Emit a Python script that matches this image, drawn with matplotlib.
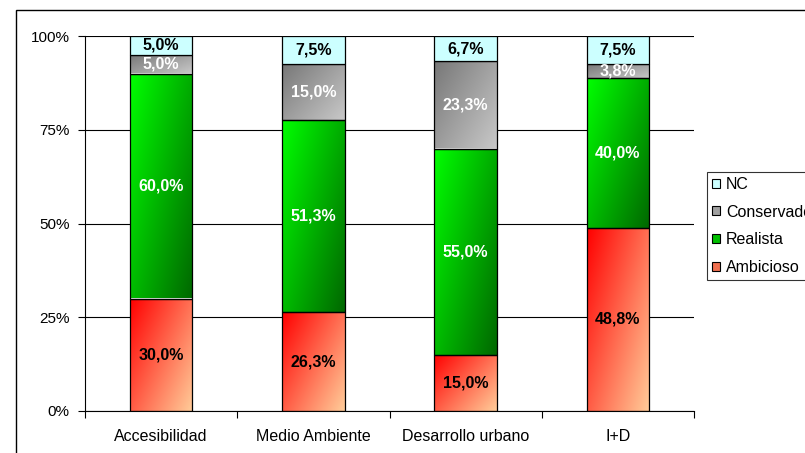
import numpy as np
import matplotlib
matplotlib.use("Agg")
import matplotlib.pyplot as plt
from matplotlib.colors import LinearSegmentedColormap
from matplotlib.patches import Patch, Rectangle

plt.rcParams['font.family'] = ['Liberation Sans', 'DejaVu Sans']

categories = ["Accesibilidad", "Medio Ambiente", "Desarrollo urbano", "I+D"]
ambicioso = [30.0, 26.3, 15.0, 48.8]
realista = [60.0, 51.3, 55.0, 40.0]
conservador = [5.0, 15.0, 23.3, 3.8]
nc = [5.0, 7.5, 6.7, 7.5]
series_names = ["Ambicioso", "Realista", "Conservador", "NC"]
y_ticks = [0, 25, 50, 75, 100]
y_tick_labels = ["0%", "25%", "50%", "75%", "100%"]

# gradient colour pairs (top-left -> bottom-right), None = flat fill
gradients = {
    "Ambicioso": ("#FF0000", "#FFCC99"),
    "Realista": ("#00FF00", "#006800"),
    "Conservador": ("#777777", "#C8C8C8"),
    "NC": None,
}
flat = {"NC": "#CCFFFF"}
legend_colors = {"Ambicioso": "#F07050", "Realista": "#00C000",
                 "Conservador": "#A0A0A0", "NC": "#CCFFFF"}
text_colors = {"Ambicioso": "black", "Realista": "white",
               "Conservador": "white", "NC": "black"}

fig = plt.figure(figsize=(8.05, 4.53), dpi=100)
ax = fig.add_axes([85 / 805, 1 - 411 / 453, 609 / 805, 375 / 453])

x = np.arange(len(categories))
width = 0.41
data = [ambicioso, realista, conservador, nc]
bottom = np.zeros(len(categories))

# diagonal gradient field
gx, gy = np.meshgrid(np.linspace(0, 1, 64), np.linspace(0, 1, 256))
field = 0.55 * gx + 0.45 * gy  # origin upper: gy=0 at top

for name, vals in zip(series_names, data):
    vals = np.array(vals)
    g = gradients[name]
    bars = ax.bar(x, vals, width, bottom=bottom,
                  color=flat.get(name, "none"), edgecolor="black",
                  linewidth=0.9, zorder=3)
    if g is not None:
        cmap = LinearSegmentedColormap.from_list(name, list(g))
        for b in bars:
            x0, y0 = b.get_x(), b.get_y()
            w, h = b.get_width(), b.get_height()
            im = ax.imshow(field, cmap=cmap, extent=(x0, x0 + w, y0, y0 + h),
                           origin="upper", aspect="auto", zorder=2,
                           interpolation="bilinear")
            im.set_clip_path(b)
    for xi, v, b0 in zip(x, vals, bottom):
        ax.text(xi, b0 + v / 2, f"{v:.1f}%".replace(".", ","),
                ha="center", va="center", fontsize=11.5, fontweight="bold",
                color=text_colors[name], zorder=5)
    bottom = bottom + vals

ax.set_xlim(-0.5, len(categories) - 0.5)
ax.set_ylim(0, 100)
ax.set_yticks(y_ticks)
ax.set_yticklabels(y_tick_labels, fontsize=11)
ax.set_xticks(x)
ax.set_xticklabels(categories, fontsize=11.5)
ax.set_xticks(np.arange(len(categories) + 1) - 0.5, minor=True)
ax.tick_params(axis="x", which="major", length=0, pad=13)
ax.tick_params(axis="x", which="minor", length=5, width=0.8, direction="out")
ax.tick_params(axis="y", length=5, width=0.8, direction="out", pad=6)
ax.yaxis.grid(True, color="black", linewidth=0.8, zorder=0)
ax.set_axisbelow(True)
for s in ["top", "right"]:
    ax.spines[s].set_visible(False)
for s in ["left", "bottom"]:
    ax.spines[s].set_linewidth(0.8)

handles = [Patch(facecolor=legend_colors[n], edgecolor="black", linewidth=0.8)
           for n in ["NC", "Conservador", "Realista", "Ambicioso"]]
leg = fig.legend(handles, ["NC", "Conservador", "Realista", "Ambicioso"],
                 loc="upper left", bbox_to_anchor=(707 / 805, 1 - 172 / 453),
                 fontsize=11.5, frameon=True, fancybox=False,
                 handlelength=0.5, handleheight=0.5, handletextpad=0.4,
                 labelspacing=0.8, borderpad=0.3, borderaxespad=0)
leg.get_frame().set_edgecolor("black")
leg.get_frame().set_linewidth(0.8)

# outer chart-area border
fig.patches.append(Rectangle((16 / 805, -0.1), 1.0, 1 - 10 / 453 + 0.1,
                             transform=fig.transFigure, fill=False,
                             edgecolor="black", linewidth=1.0))

fig.savefig("out.png", dpi=100)
